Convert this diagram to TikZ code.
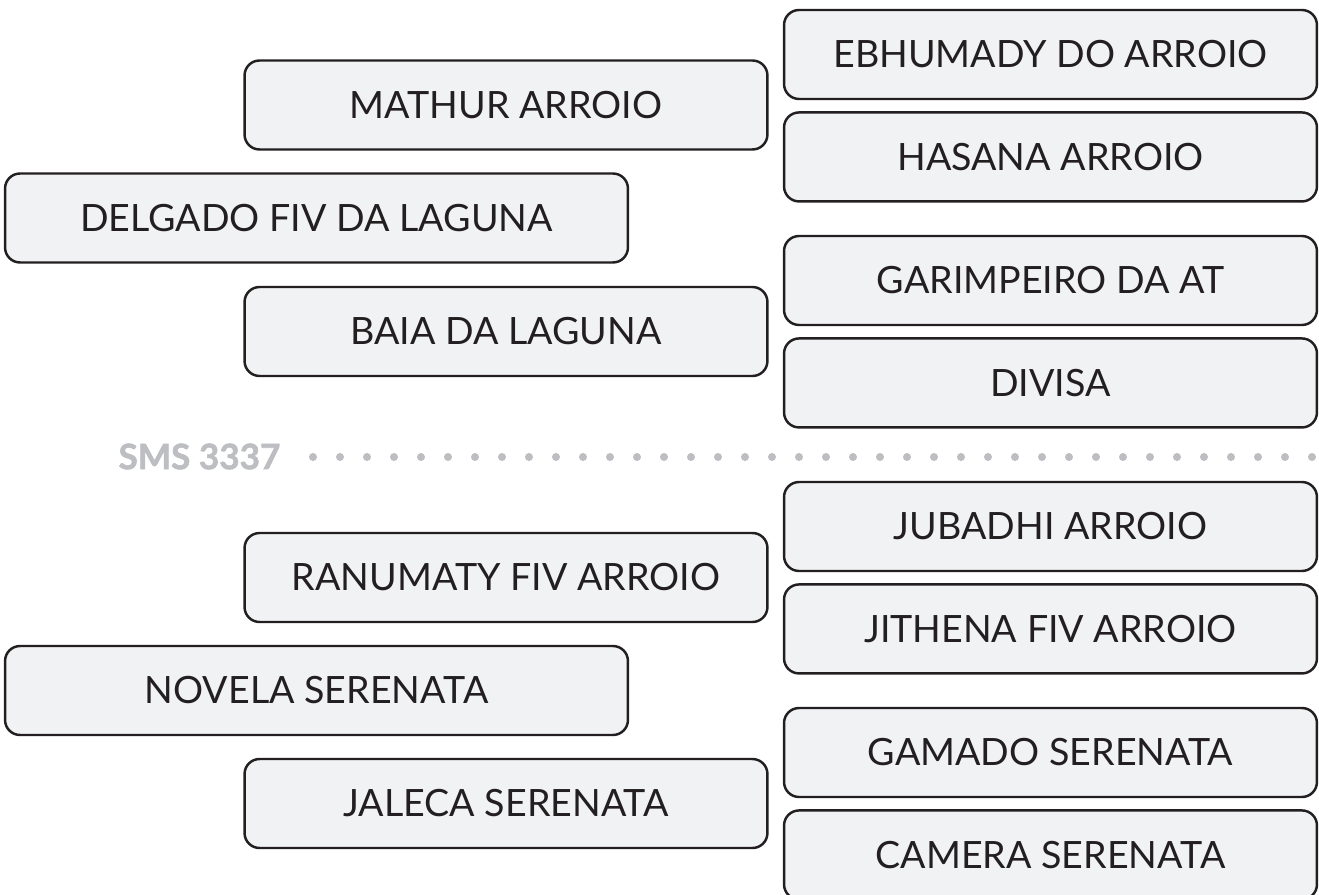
\documentclass[tikz,border=0pt]{standalone}
\usepackage{fontspec}
\setmainfont{Lato}
\newfontfamily\roadfont{Lato}[BoldFeatures={FakeBold=1.6}]
\usetikzlibrary{positioning}
\definecolor{boxfill}{HTML}{F1F2F4}
\definecolor{boxink}{HTML}{231F20}
\definecolor{dotgray}{HTML}{BDBEC2}

\begin{document}
\begin{tikzpicture}[
  x=0.02cm, y=-0.02cm,
  place/.style={draw=boxink, fill=boxfill, rounded corners=0.3cm, line width=1.4pt,
                minimum height=1.78cm, inner sep=0pt, text=boxink,
                font=\fontsize{21.4}{24}\selectfont},
  rbox/.style={place, minimum width=10.66cm},
  mbox/.style={place, minimum width=10.46cm},
  lbox/.style={place, minimum width=12.46cm},
  road/.style={inner sep=0pt, text=dotgray, font=\roadfont\fontsize{20}{24}\selectfont\bfseries},
]
\useasboundingbox (0,0) rectangle (1319,895);

% ===================== above the road =====================
\node[rbox] (ebhumady) at (1050.5,54.5) {EBHUMADY DO ARROIO};
\node[rbox, below=0.22cm of ebhumady] (hasana) {HASANA ARROIO};
\node[mbox] (mathur) at (506,105) {MATHUR ARROIO};
\node[lbox] (delgado) at (316.5,218) {DELGADO FIV DA LAGUNA};
\node[rbox] (garimpeiro) at (1050.5,280.5) {GARIMPEIRO DA AT};
\node[rbox, below=0.22cm of garimpeiro] (divisa) {DIVISA};
\node[mbox] (baia) at (506,331.5) {BAIA DA LAGUNA};

% ===================== the road =====================
\node[road] (sms) at (199.5,456.5) {SMS 3337};
\foreach \i in {0,...,37}
  \fill[dotgray] (313+27*\i,457) circle (0.08cm);

% ===================== below the road =====================
\node[rbox] (jubadhi) at (1050.5,526.5) {JUBADHI ARROIO};
\node[rbox, below=0.22cm of jubadhi] (jithena) {JITHENA FIV ARROIO};
\node[mbox] (ranumaty) at (506,577.5) {RANUMATY FIV ARROIO};
\node[lbox] (novela) at (316.5,690.5) {NOVELA SERENATA};
\node[rbox] (gamado) at (1050.5,752.5) {GAMADO SERENATA};
\node[rbox, below=0.22cm of gamado] (camera) {CAMERA SERENATA};
\node[mbox] (jaleca) at (506,803.5) {JALECA SERENATA};
\end{tikzpicture}
\end{document}
